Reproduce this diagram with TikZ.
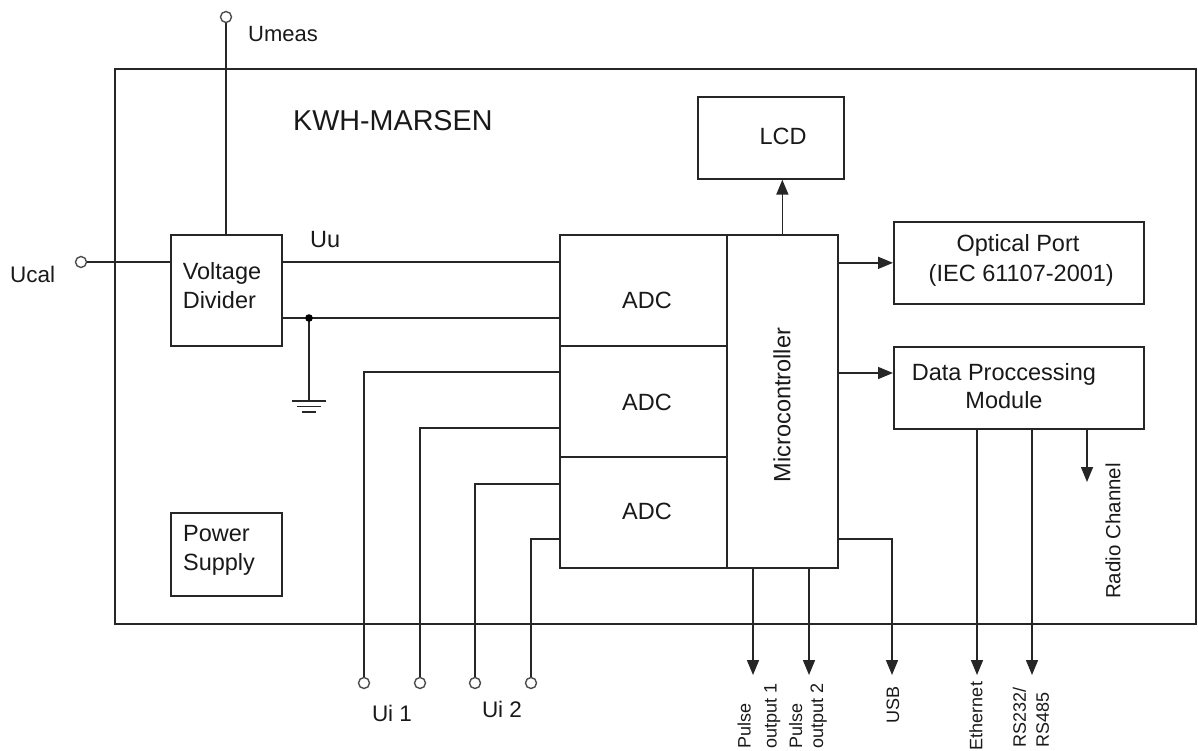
\documentclass[tikz,border=0pt]{standalone}
\usepackage{fontspec}
\setmainfont{Liberation Sans}
\usetikzlibrary{arrows.meta}
\begin{document}
\begin{tikzpicture}[x=1pt,y=-1pt,
  wire/.style={line width=1.6pt, draw=black!85},
  box/.style={draw=black!85, line width=1.7pt, inner sep=0pt, fill=white},
  arr/.style={wire, -{Triangle[length=15pt,width=12pt]}},
  term/.style={circle, draw=black!70, line width=1.4pt, fill=white, minimum size=11pt, inner sep=0pt},
  lbl/.style={inner sep=0pt, font=\fontsize{23.5}{29}\selectfont, text=black!90},
  vlbl/.style={inner sep=0pt, font=\fontsize{18}{24}\selectfont, text=black!90, rotate=90, align=left}
]
\useasboundingbox (0,0) rectangle (1198,751);

% outer box
\node[box, fill=none, line width=1.9pt, anchor=north west, minimum width=1081pt, minimum height=555pt] (outer) at (114,68) {};
\node[lbl, anchor=west, font=\fontsize{28.7}{33}\selectfont] (title) at (293,121) {KWH-MARSEN};

% blocks
\node[box, anchor=north west, minimum width=111pt, minimum height=111pt] (vd) at (170,234) {};
\node[lbl, align=left] (vdt) at (222,286) {Voltage\\Divider};
\node[box, anchor=north west, minimum width=111pt, minimum height=83pt] (ps) at (170,512) {};
\node[lbl, align=left] (pst) at (219,550) {Power\\Supply};

\node[box, anchor=north west, minimum width=167pt, minimum height=111pt] (adc1) at (559,234) {};
\node[box, anchor=north west, minimum width=167pt, minimum height=111pt] (adc2) at (559,345) {};
\node[box, anchor=north west, minimum width=167pt, minimum height=111pt] (adc3) at (559,456) {};
\node[lbl] (adc1t) at (647,300) {ADC};
\node[lbl] (adc2t) at (647,402) {ADC};
\node[lbl] (adc3t) at (647,511) {ADC};
\node[box, anchor=north west, minimum width=111pt, minimum height=333pt] (mc) at (726,234) {};
\node[lbl, rotate=90] (mct) at (782,405) {Microcontroller};

\node[box, anchor=north west, minimum width=146pt, minimum height=82pt] (lcd) at (697,96) {};
\node[lbl] (lcdt) at (783,136) {LCD};
\node[box, anchor=north west, minimum width=250pt, minimum height=82pt] (op) at (893,221) {};
\node[lbl, align=center, font=\fontsize{23.5}{30}\selectfont] (opt) at (1018,260) {Optical Port\\ \ (IEC 61107-2001)};
\node[box, anchor=north west, minimum width=250pt, minimum height=82pt] (dpm) at (893,346) {};
\node[lbl, align=center, font=\fontsize{23.5}{28}\selectfont] (dpmt) at (1004,386) {Data Proccessing\\Module};

% terminals
\node[term] (tum) at (226,17) {};
\node[lbl, anchor=west, font=\fontsize{22}{26}\selectfont] (umt) at (248,34) {Umeas};
\node[term] (tuc) at (81,262) {};
\node[lbl, anchor=west, font=\fontsize{22.5}{26}\selectfont] (uct) at (10,274) {Ucal};
\node[lbl, anchor=west] (uut) at (310,240) {Uu};

\node[term] (ti1) at (364,683) {};
\node[term] (ti2) at (420,683) {};
\node[term] (ti3) at (475,683) {};
\node[term] (ti4) at (531,683) {};
\node[lbl, font=\fontsize{22.5}{26}\selectfont] (ui1) at (392,713) {Ui 1};
\node[lbl, font=\fontsize{22.5}{26}\selectfont] (ui2) at (502,709) {Ui 2};

% wires
\draw[wire] (tum) -- (tum |- vd.north);
\draw[wire] (tuc) -- (vd.west |- tuc);
\draw[wire] (vd.east |- tuc) -- (adc1.west |- tuc);
\coordinate (gj) at (309,318);
\coordinate (gnd) at (309,401);
\draw[wire] (vd.east |- gj) -- (adc1.west |- gj);
\draw[wire] (gj) -- (gnd);
\fill[black] (gj) circle (3.8pt);
\draw[wire] ([xshift=-17pt]gnd) -- ([xshift=17pt]gnd);
\draw[wire] ([xshift=-12pt,yshift=-5.5pt]gnd) -- ([xshift=12pt,yshift=-5.5pt]gnd);
\draw[wire] ([xshift=-7pt,yshift=-11pt]gnd) -- ([xshift=7pt,yshift=-11pt]gnd);

\draw[wire] (ti1) -- (ti1 |- 0,372) -- (adc2.west |- 0,372);
\draw[wire] (ti2) -- (ti2 |- 0,428) -- (adc2.west |- 0,428);
\draw[wire] (ti3) -- (ti3 |- 0,484) -- (adc3.west |- 0,484);
\draw[wire] (ti4) -- (ti4 |- 0,539) -- (adc3.west |- 0,539);

\draw[arr] (mc.north) -- (mc.north |- lcd.south);
\draw[arr] (mc.east |- op.west) -- (op.west);
\coordinate (dpin) at (893,373);
\draw[arr] (mc.east |- dpin) -- (dpin);

\coordinate (po1) at (753,675);
\coordinate (po2) at (809,675);
\coordinate (usb) at (892,675);
\coordinate (eth) at (977,675);
\coordinate (rs) at (1032,675);
\coordinate (rad) at (1087,482);
\draw[arr] (mc.south -| po1) -- (po1);
\draw[arr] (mc.south -| po2) -- (po2);
\draw[arr] (mc.east |- 0,539) -- (usb |- 0,539) -- (usb);
\draw[arr] (dpm.south -| eth) -- (eth);
\draw[arr] (dpm.south -| rs) -- (rs);
\draw[arr] (dpm.south -| rad) -- (rad);

% output labels
\node[vlbl, anchor=west, font=\fontsize{18}{26}\selectfont] (po1t) at (759,749) {Pulse\\output 1};
\node[vlbl, anchor=west, font=\fontsize{18}{21}\selectfont] (po2t) at (808,749) {Pulse\\output 2};
\node[vlbl] (usbt) at (893,705) {USB};
\node[vlbl] (etht) at (976,716) {Ethernet};
\node[vlbl, anchor=west, font=\fontsize{18}{23}\selectfont] (rst) at (1031,748) {RS232/\\RS485};
\node[vlbl, font=\fontsize{20.5}{24}\selectfont] (radt) at (1113,531) {Radio Channel};
\end{tikzpicture}
\end{document}
